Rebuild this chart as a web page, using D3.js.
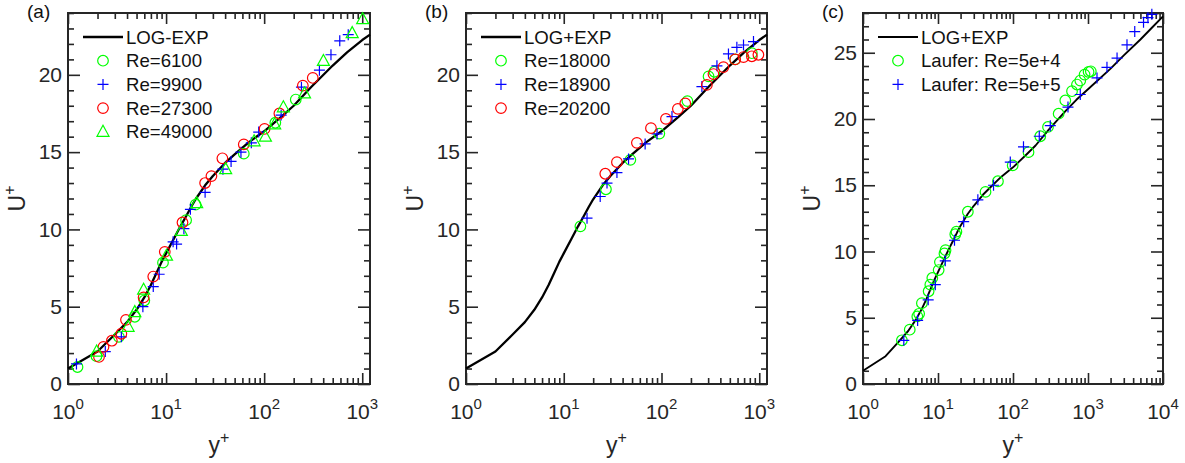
<!DOCTYPE html>
<html>
<head>
<meta charset="utf-8">
<script src="https://cdn.jsdelivr.net/npm/d3@7"></script>
<style>
  html, body { margin: 0; padding: 0; background: #fff; }
  svg { display: block; }
</style>
</head>
<body>
<svg id="chart" width="1185" height="463"></svg>
<script>
// ---------------- DATA ----------------
// LOG-EXP / LOG+EXP model curve (y+, U+)
const curveY = [1, 2, 3, 4, 5, 6, 7, 8, 9, 10, 12, 14, 16, 18, 20, 25, 30, 40, 50, 70, 100, 150, 200, 300, 500, 700, 1000, 1200];
const curveU = [1.0, 2.1, 3.2, 4.0, 4.8, 5.6, 6.4, 7.2, 7.9, 8.45, 9.4, 10.2, 10.85, 11.45, 11.95, 12.85, 13.45, 14.3, 14.85, 15.65, 16.35, 17.3, 18.0, 19.2, 20.6, 21.45, 22.25, 22.6];
const curveYc = [1, 2, 3, 4, 5, 6, 7, 8, 9, 10, 12, 14, 16, 18, 20, 25, 30, 40, 50, 70, 100, 150, 200, 300, 500, 700, 1000, 2000, 3000, 5000, 7000, 10000];
const curveUc = [1.0, 2.1, 3.2, 4.0, 4.8, 5.6, 6.4, 7.2, 7.9, 8.45, 9.4, 10.2, 10.85, 11.45, 11.95, 12.85, 13.45, 14.3, 14.85, 15.65, 16.35, 17.3, 18.0, 19.2, 20.6, 21.45, 22.25, 23.8, 24.8, 26.0, 26.85, 27.75];

// Panel (a)
const a6100Y = [1.25, 1.95, 3.3, 4.8, 6.0, 9.3, 16, 20, 62, 130, 210];
const a6100U = [1.1, 1.8, 3.05, 4.35, 5.4, 7.85, 10.6, 11.6, 14.9, 16.9, 18.4];
const a9900Y = [1.22, 2.4, 3.5, 5.8, 7.4, 8.5, 11.8, 12.8, 15.2, 17.7, 25, 38, 46, 58, 74, 88, 149, 240, 366, 480, 590, 720];
const a9900U = [1.3, 2.1, 3.05, 5.0, 6.3, 7.1, 9.2, 9.05, 10.05, 11.3, 12.4, 13.9, 14.4, 15.0, 15.6, 16.3, 17.4, 19.2, 20.3, 21.3, 22.2, 22.6];
const a27300Y = [2.07, 2.3, 2.8, 3.5, 3.9, 5.9, 7.4, 9.7, 14.7, 25, 29, 37.5, 62, 101, 143, 248, 313];
const a27300U = [1.75, 2.4, 2.8, 3.25, 4.15, 5.6, 6.95, 8.55, 10.45, 13.0, 13.45, 14.6, 15.5, 16.5, 17.5, 19.3, 19.8];
const a49000Y = [1.96, 4.1, 4.8, 5.9, 10.1, 14.3, 20.5, 40.5, 79, 103, 128, 157, 258, 402, 790, 1010];
const a49000U = [2.1, 3.7, 4.65, 6.1, 8.3, 9.9, 11.7, 13.9, 15.7, 16.0, 16.8, 17.9, 18.8, 20.9, 22.7, 23.6];

// Panel (b)
const b18000Y = [14.8, 27, 48, 95, 184, 303, 348, 567, 840];
const b18000U = [10.2, 12.6, 14.5, 16.2, 18.3, 19.9, 20.2, 21.0, 21.4];
const b18900Y = [17.3, 23.6, 27.7, 35, 46, 68, 90, 128, 259, 369, 484, 590, 690, 873];
const b18900U = [10.73, 12.13, 13.0, 13.68, 14.56, 15.53, 16.18, 17.3, 19.24, 20.58, 21.35, 21.78, 21.93, 22.15];
const b20200Y = [26.6, 35, 56, 78, 111, 147, 175, 291, 340, 430, 567, 690, 840, 980];
const b20200U = [13.6, 14.35, 15.6, 16.55, 17.15, 17.8, 18.15, 19.35, 20.05, 20.5, 21.0, 21.15, 21.2, 21.3];

// Panel (c)
const c5e4Y = [3.3, 4.2, 5.3, 5.6, 6.1, 7.5, 7.9, 8.4, 10.2, 10.6, 12.2, 12.6, 17, 17.6, 25, 43, 63, 99, 161, 231, 293, 406, 498, 612, 713, 789, 900, 1018, 1090];
const c5e4U = [3.3, 4.1, 5.1, 5.3, 6.1, 7.0, 7.5, 8.0, 8.6, 9.2, 9.85, 10.1, 11.3, 11.5, 13.0, 14.5, 15.3, 16.5, 17.5, 18.7, 19.4, 20.4, 21.4, 22.1, 22.6, 22.9, 23.35, 23.55, 23.6];
const c5e5Y = [3.5, 5.35, 7.4, 9.2, 12.5, 16.6, 22, 34, 55, 92, 138, 224, 314, 541, 789, 1318, 1790, 2440, 3310, 4200, 5500, 6300, 7100];
const c5e5U = [3.3, 4.8, 6.35, 7.5, 9.3, 10.85, 12.25, 13.9, 15.0, 16.75, 17.9, 18.7, 19.5, 20.9, 21.85, 23.1, 23.9, 24.6, 25.6, 26.6, 27.3, 27.65, 27.9];

// Tick labels
const yTicksAB = [0, 5, 10, 15, 20];
const yTicksC = [0, 5, 10, 15, 20, 25];
const xDecadesAB = [0, 1, 2, 3];
const xDecadesC = [0, 1, 2, 3, 4];

const GREEN = "#00ff00", BLUE = "#0000ff", RED = "#ff0000";
const FONT = "'Liberation Sans', Arial, Helvetica, sans-serif";

const panels = [
  {
    tag: "(a)", left: 68, right: 370, top: 13, bottom: 384,
    xmax: 1200, ymax: 24, yTicks: yTicksAB, decades: xDecadesAB,
    curveLabel: "LOG-EXP", cx: curveY, cu: curveU, lineW: 2.3,
    series: [
      { name: "Re=6100", sym: "circle", color: GREEN, x: a6100Y, u: a6100U },
      { name: "Re=9900", sym: "plus", color: BLUE, x: a9900Y, u: a9900U },
      { name: "Re=27300", sym: "circle", color: RED, x: a27300Y, u: a27300U },
      { name: "Re=49000", sym: "tri", color: GREEN, x: a49000Y, u: a49000U }
    ]
  },
  {
    tag: "(b)", left: 466, right: 767, top: 13, bottom: 384,
    xmax: 1200, ymax: 24, yTicks: yTicksAB, decades: xDecadesAB,
    curveLabel: "LOG+EXP", cx: curveY, cu: curveU, lineW: 2.3,
    series: [
      { name: "Re=18000", sym: "circle", color: GREEN, x: b18000Y, u: b18000U },
      { name: "Re=18900", sym: "plus", color: BLUE, x: b18900Y, u: b18900U },
      { name: "Re=20200", sym: "circle", color: RED, x: b20200Y, u: b20200U }
    ]
  },
  {
    tag: "(c)", left: 863, right: 1163, top: 13, bottom: 384,
    xmax: 10000, ymax: 28, yTicks: yTicksC, decades: xDecadesC,
    curveLabel: "LOG+EXP", cx: curveYc, cu: curveUc, lineW: 1.9,
    series: [
      { name: "Laufer: Re=5e+4", sym: "circle", color: GREEN, x: c5e4Y, u: c5e4U },
      { name: "Laufer: Re=5e+5", sym: "plus", color: BLUE, x: c5e5Y, u: c5e5U }
    ]
  }
];

const svg = d3.select("#chart");
const AXC = "#262626";

function marker(g, sym, color, px, py) {
  if (sym === "circle") {
    g.append("circle").attr("cx", px).attr("cy", py).attr("r", 5.3)
      .attr("fill", "none").attr("stroke", color).attr("stroke-width", 1.2);
  } else if (sym === "plus") {
    g.append("path").attr("d", `M${px - 5.5},${py}H${px + 5.5}M${px},${py - 5.5}V${py + 5.5}`)
      .attr("fill", "none").attr("stroke", color).attr("stroke-width", 1.2);
  } else {
    g.append("path").attr("d", `M${px},${py - 6.5}L${px + 6},${py + 4.5}L${px - 6},${py + 4.5}Z`)
      .attr("fill", "none").attr("stroke", color).attr("stroke-width", 1.2);
  }
}

panels.forEach(p => {
  const g = svg.append("g");
  const x = d3.scaleLog().domain([1, p.xmax]).range([p.left, p.right]);
  const y = d3.scaleLinear().domain([0, p.ymax]).range([p.bottom, p.top]);

  // minor / major tick values
  const xMajor = p.decades.map(d => Math.pow(10, d));
  const xMinor = [];
  p.decades.forEach(d => {
    for (let m = 2; m <= 9; m++) {
      const v = m * Math.pow(10, d);
      if (v <= p.xmax) xMinor.push(v);
    }
  });
  const yMinor = d3.range(0, p.ymax + 0.001, 1).filter(v => v % 5 !== 0);
  const yMajor = d3.range(0, p.ymax + 0.001, 5);

  const H = p.bottom - p.top, W = p.right - p.left;
  const styleAxis = sel => {
    sel.select(".domain").remove();
    sel.selectAll("line").attr("stroke", AXC).attr("stroke-width", 1.6);
    sel.selectAll("text").attr("font-family", FONT).attr("font-size", 21).attr("fill", AXC);
  };
  // bottom
  g.append("g").attr("transform", `translate(0,${p.bottom})`)
    .call(d3.axisBottom(x).tickValues(xMajor).tickSize(-11).tickFormat("")).call(styleAxis);
  g.append("g").attr("transform", `translate(0,${p.bottom})`)
    .call(d3.axisBottom(x).tickValues(xMinor).tickSize(-6).tickFormat("")).call(styleAxis);
  // top
  g.append("g").attr("transform", `translate(0,${p.top})`)
    .call(d3.axisTop(x).tickValues(xMajor).tickSize(-11).tickFormat("")).call(styleAxis);
  g.append("g").attr("transform", `translate(0,${p.top})`)
    .call(d3.axisTop(x).tickValues(xMinor).tickSize(-6).tickFormat("")).call(styleAxis);
  // left
  g.append("g").attr("transform", `translate(${p.left},0)`)
    .call(d3.axisLeft(y).tickValues(yMajor).tickSize(-12).tickPadding(6).tickFormat(d3.format("d")))
    .call(styleAxis);
  g.append("g").attr("transform", `translate(${p.left},0)`)
    .call(d3.axisLeft(y).tickValues(yMinor).tickSize(-6).tickFormat("")).call(styleAxis);
  // hide left labels not in list
  // right
  g.append("g").attr("transform", `translate(${p.right},0)`)
    .call(d3.axisRight(y).tickValues(yMajor).tickSize(-12).tickFormat("")).call(styleAxis);
  g.append("g").attr("transform", `translate(${p.right},0)`)
    .call(d3.axisRight(y).tickValues(yMinor).tickSize(-6).tickFormat("")).call(styleAxis);

  // frame
  g.append("rect").attr("x", p.left).attr("y", p.top).attr("width", W).attr("height", H)
    .attr("fill", "none").attr("stroke", AXC).attr("stroke-width", 2);

  // x tick labels 10^k
  p.decades.forEach(d => {
    const t = g.append("text").attr("x", x(Math.pow(10, d))).attr("y", p.bottom + 35)
      .attr("text-anchor", "middle").attr("font-family", FONT).attr("font-size", 21).attr("fill", AXC);
    t.append("tspan").text("10");
    t.append("tspan").attr("dy", -10).attr("font-size", 15).text(String(d));
  });

  // axis labels
  const xl = g.append("text").attr("x", (p.left + p.right) / 2).attr("y", p.bottom + 69)
    .attr("text-anchor", "middle").attr("font-family", FONT).attr("font-size", 23).attr("fill", AXC);
  xl.append("tspan").text("y");
  xl.append("tspan").attr("dy", -10).attr("font-size", 16).text("+");

  const cy = (p.top + p.bottom) / 2;
  const yl = g.append("text").attr("transform", `translate(${p.left - 43},${cy}) rotate(-90)`)
    .attr("text-anchor", "middle").attr("font-family", FONT).attr("font-size", 23).attr("fill", AXC);
  yl.append("tspan").text("U");
  yl.append("tspan").attr("dy", -10).attr("font-size", 16).text("+");

  // panel tag
  g.append("text").attr("x", p.left - 41).attr("y", p.top + 5)
    .attr("font-family", FONT).attr("font-size", 19).attr("fill", "#111").text(p.tag);

  // curve
  const line = d3.line().x(d => x(d[0])).y(d => y(d[1]));
  const pts = p.cx.map((v, i) => [v, p.cu[i]]);
  g.append("path").datum(pts).attr("d", line).attr("fill", "none")
    .attr("stroke", "#000").attr("stroke-width", p.lineW).attr("stroke-linejoin", "round");

  // series markers
  p.series.forEach(s => {
    const sg = g.append("g");
    s.x.forEach((v, i) => marker(sg, s.sym, s.color, x(v), y(s.u[i])));
  });

  // legend
  const lx = p.left + 15, ly0 = 37, step = 23.7;
  const lg = g.append("g");
  lg.append("line").attr("x1", lx).attr("x2", lx + 40).attr("y1", ly0).attr("y2", ly0)
    .attr("stroke", "#000").attr("stroke-width", p.lineW);
  lg.append("text").attr("x", p.left + 58).attr("y", ly0 + 6.5)
    .attr("font-family", FONT).attr("font-size", 18.6).attr("fill", "#111").text(p.curveLabel);
  p.series.forEach((s, i) => {
    const yy = ly0 + step * (i + 1);
    marker(lg, s.sym, s.color, p.left + 35, yy);
    lg.append("text").attr("x", p.left + 58).attr("y", yy + 6.5)
      .attr("font-family", FONT).attr("font-size", 18.6).attr("fill", "#111").text(s.name);
  });
});
</script>
</body>
</html>
